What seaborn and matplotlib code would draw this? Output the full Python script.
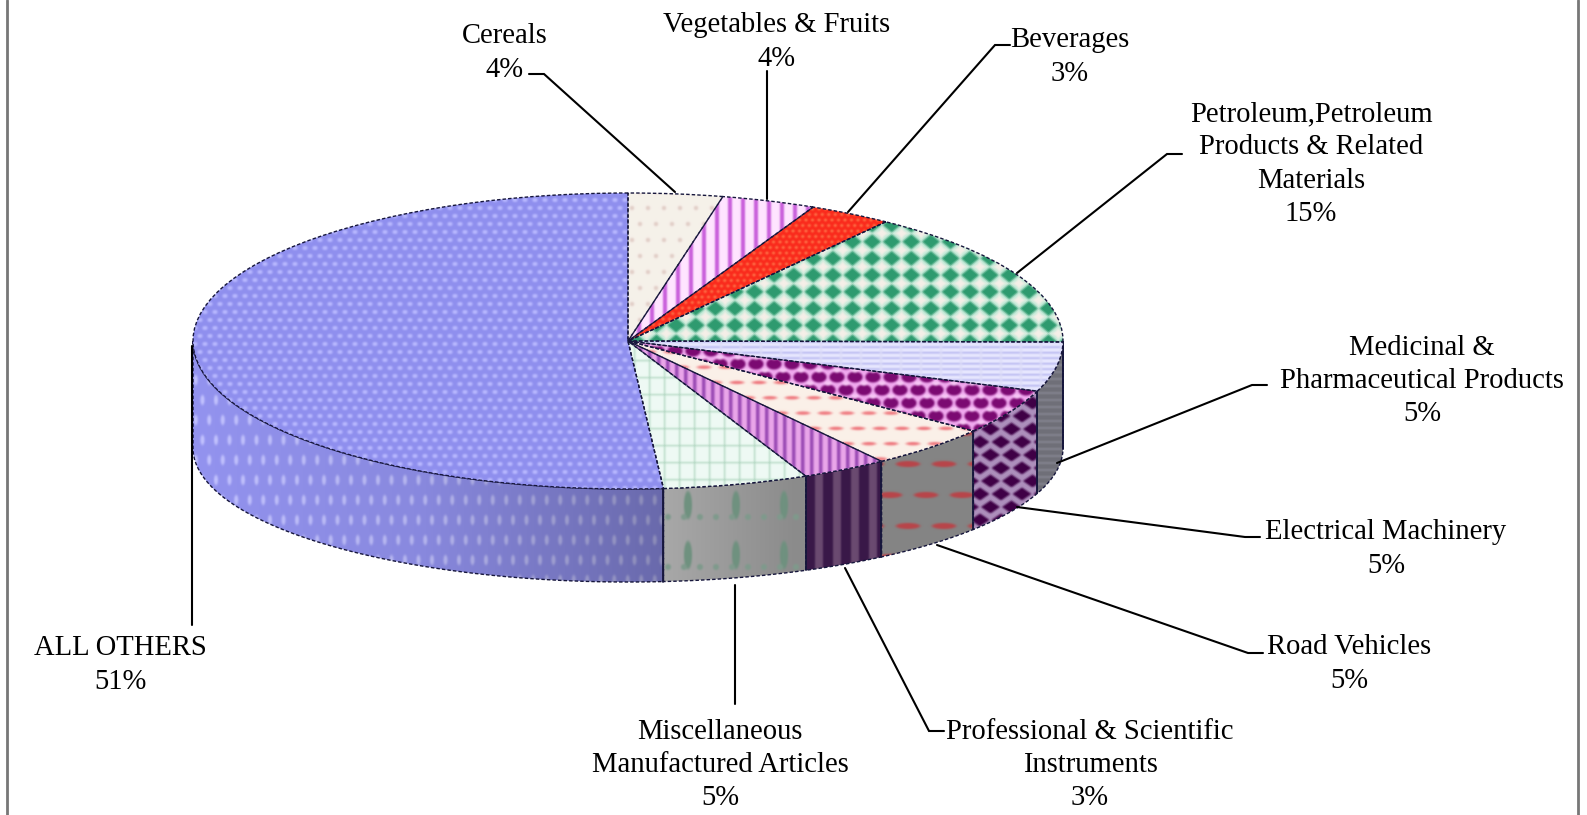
import numpy as np
import seaborn as sns
import matplotlib.pyplot as plt
from matplotlib.colors import to_rgb
from matplotlib.patches import Polygon

categories = ["Cereals", "Vegetables & Fruits", "Beverages",
              "Petroleum,Petroleum\nProducts & Related\nMaterials",
              "Medicinal &\nPharmaceutical Products", "Electrical Machinery",
              "Road Vehicles", "Professional & Scientific\nInstruments",
              "Miscellaneous\nManufactured Articles", "ALL OTHERS"]
# slice sizes, the printed labels are rounded
values = [3.5, 3.5, 3.1, 15.0, 5.4, 4.9, 4.7, 3.2, 5.4, 51.3]
percent_labels = ["4%", "4%", "3%", "15%", "5%", "5%", "5%", "3%", "5%", "51%"]

W, H = 1587, 815
CX, CY = 628, 341       # centre of the top face, in pixels
RX, RY = 435, 148       # radii of the top face
DROP = 107              # bottom ellipse centre is this far below the top one
RY_BOTTOM = 134

X, Y = np.meshgrid(np.arange(W) + 0.5, np.arange(H) + 0.5)


def rgb(c):
    return np.array(to_rgb(c))


def flat(c):
    return np.ones((H, W, 3)) * rgb(c)


def mix(bg, fg, m):
    return bg * (1 - m[..., None]) + rgb(fg) * m[..., None]


def cells(dx, dy, stagger, x0, y0):
    row = np.floor((Y - y0) / dy + 0.5)
    xs = X - x0 - (row % 2) * dx / 2 if stagger else X - x0
    u = (xs + dx / 2) % dx - dx / 2
    v = (Y - y0 + dy / 2) % dy - dy / 2
    return u, v


def dots(bg, fg, dx, dy, rx, ry, stagger=True, x0=0, y0=0):
    u, v = cells(dx, dy, stagger, x0, y0)
    d = np.sqrt((u / rx) ** 2 + (v / ry) ** 2) - 1
    return mix(bg, fg, np.clip(-d * min(rx, ry) + 0.5, 0, 1))


def diamonds(bg, fg, dx, dy, rx, ry, stagger=False, x0=0, y0=0):
    u, v = cells(dx, dy, stagger, x0, y0)
    d = np.abs(u / rx) + np.abs(v / ry) - 1
    return mix(bg, fg, np.clip(-d * min(rx, ry) + 0.5, 0, 1))


def stripes(bg, fg, dx, width, x0=0):
    u = (X - x0) % dx
    return mix(bg, fg, np.clip(np.minimum(u, width - u) + 0.5, 0, 1))


def hlines(bg, fg, dy, width, y0=0):
    v = (Y - y0) % dy
    return mix(bg, fg, np.clip(np.minimum(v, width - v) + 0.5, 0, 1))


def shaded(tex, xs, factors):
    return np.clip(tex * np.interp(X, xs, factors)[..., None], 0, 1)


def soften(tex, passes=2):
    # the reference is a blurry bitmap, so the fills get a small box blur
    for _ in range(passes):
        tex = (tex + np.roll(tex, 1, 0) + np.roll(tex, -1, 0)
               + np.roll(tex, 1, 1) + np.roll(tex, -1, 1)) / 5
    return tex


def top_textures():
    grid = stripes(flat("#eefaf4"), "#a9d2ba", 15, 1.2, x0=4)
    grid = hlines(grid, "#a9d2ba", 17, 1.2, y0=3)
    med = hlines(flat("#e9e9ff"), "#a5a5ea", 5.5, 1.3)
    med = stripes(med, "#dcdcf8", 20, 2)
    elec = dots(flat("#f0a8ee"), "#7c0a72", 18, 13, 7.5, 5.5)
    elec = dots(elec, "#f7c8f5", 18, 13, 3.5, 2.2, x0=9, y0=6.5)
    veg = stripes(flat("#ffe4ff"), "#c95fdb", 13, 4)
    prof = stripes(flat("#eaa6ea"), "#9a4ab4", 9, 3.5)
    green = dots(flat("#f5efe8"), "#c4ead8", 19.6, 16.7, 10, 8.5, stagger=False,
                 x0=891.7, y0=241.7)
    green = diamonds(green, "#2e9b6f", 19.6, 16.7, 9, 7.5, x0=891.7, y0=241.7)
    texs = [
        dots(flat("#f6f1ea"), "#e2cfc8", 16, 16, 2.2, 2.2),
        veg,
        dots(flat("#fa2a1c"), "#ff8a55", 6.5, 5.5, 1.4, 1.2),
        green,
        med,
        elec,
        dots(flat("#fbf0e8"), "#ef7a80", 22, 15.3, 7, 1.7),
        prof,
        grid,
        dots(flat("#8f8fee"), "#b9b9ff", 10, 8, 2.6, 2),
    ]
    return [soften(t) for t in texs]


def wall_textures():
    misc = shaded(flat("#aaaaaa"), [655, 795], [1.0, 0.82])
    misc = dots(misc, "#6f917f", 48, 50, 4, 14, stagger=False, x0=688, y0=505)
    misc = dots(misc, "#7f9a8c", 16, 50, 3, 3, stagger=False, x0=700, y0=517)
    road = dots(flat("#848484"), "#b8454a", 36, 31, 12, 3, x0=890, y0=495)
    elec = diamonds(flat("#ad8fbc"), "#3f0046", 21, 13, 9.5, 6.5, stagger=True, x0=980)
    prof = stripes(flat("#6a4a70"), "#391848", 18, 10, x0=805)
    others = dots(flat("#9393ef"), "#c2c2ff", 13.5, 20, 2, 5)
    others = shaded(others, [193, 420, 660], [1.0, 0.93, 0.72])
    texs = [
        flat("#777"), flat("#777"), flat("#777"), flat("#74747c"),
        hlines(flat("#6f6f78"), "#858590", 7, 2),
        elec, road, prof, misc, others,
    ]
    return [soften(t) for t in texs]


# pixel layout of the callouts: text centre, then the leader polyline
label_pos = [(505, 53), (777, 42), (1070, 57), (1311, 164), (1422, 381),
             (1386, 549), (1349, 664), (1090, 765), (720, 765), (120, 665)]
leaders = [
    [(529, 74), (544, 74), (675, 192)],
    [(767, 71), (767, 199)],
    [(1010, 45), (995, 45), (848, 212)],
    [(1182, 154), (1167, 154), (1017, 273)],
    [(1267, 385), (1252, 385), (1057, 463)],
    [(1260, 537), (1245, 537), (1017, 507)],
    [(1263, 653), (1248, 653), (937, 545)],
    [(944, 731), (929, 731), (845, 568)],
    [(735, 704), (735, 585)],
    [(192, 625), (192, 346)],
]

sns.set_theme(style="white")
plt.rcParams["font.family"] = ["Liberation Serif", "DejaVu Serif"]

fig = plt.figure(figsize=(W / 100, H / 100), dpi=100, facecolor="white")
ax = fig.add_axes([0, 0, 1, 1])
wedges, _ = ax.pie(values, startangle=90, counterclock=False, radius=1)
ax.set_aspect("auto")
xlim = (-CX / RX, (W - CX) / RX)
ylim = ((CY - H) / RY, CY / RY)
ax.set_xlim(xlim)
ax.set_ylim(ylim)
ax.autoscale(False)
extent = (xlim[0], xlim[1], ylim[0], ylim[1])
EDGE = "#16163c"

# side wall, only the part of each slice that faces the viewer
for w, tex in zip(wedges, wall_textures()):
    lo, hi = max(w.theta1, -180), min(w.theta2, 0)
    if hi <= lo:
        continue
    t = np.radians(np.linspace(lo, hi, 80))
    top = np.column_stack([np.cos(t), np.sin(t)])
    bottom = np.column_stack([np.cos(t), -DROP / RY + np.sin(t) * RY_BOTTOM / RY])
    poly = Polygon(np.vstack([top, bottom[::-1]]), closed=True, facecolor="none",
                   edgecolor=EDGE, lw=1.0, ls=(0, (2.5, 1.5)), zorder=3)
    ax.add_patch(poly)
    im = ax.imshow(tex, extent=extent, origin="upper", aspect="auto",
                   interpolation="bilinear", zorder=2)
    im.set_clip_path(poly)
    if lo > -180:
        ax.plot([np.cos(t[0])] * 2, [np.sin(t[0]), bottom[0, 1]], color=EDGE,
                lw=1.3, zorder=3)

# top face, the wedges come straight from ax.pie
for w, tex in zip(wedges, top_textures()):
    w.set(facecolor="none", edgecolor=EDGE, lw=1.0, ls=(0, (2.5, 1.5)), zorder=5)
    im = ax.imshow(tex, extent=extent, origin="upper", aspect="auto",
                   interpolation="bilinear", zorder=4)
    im.set_clip_path(w)

# labels and leaders in pixel coordinates
ax_px = fig.add_axes([0, 0, 1, 1], facecolor="none")
ax_px.set_xlim(0, W)
ax_px.set_ylim(H, 0)
ax_px.axis("off")
for name, pct, pos, line in zip(categories, percent_labels, label_pos, leaders):
    ax_px.text(pos[0], pos[1], name + "\n" + pct, ha="center", va="center",
               fontsize=20.6, color="black", linespacing=1.37)
    xs, ys = zip(*line)
    ax_px.plot(xs, ys, color="black", lw=1.5, solid_joinstyle="miter")

ax_px.axvline(6.5, color="#777777", lw=2)
ax_px.axvline(1578, color="#777777", lw=2)

fig.savefig("out.png", dpi=100)
